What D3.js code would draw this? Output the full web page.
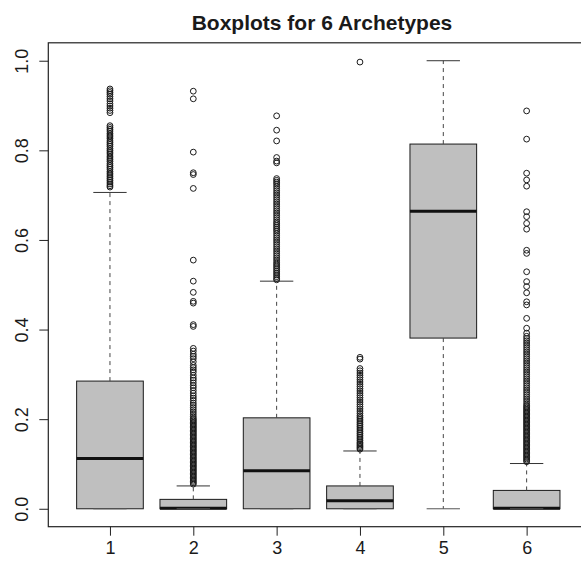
<!DOCTYPE html>
<html>
<head>
<meta charset="utf-8">
<script src="https://cdn.jsdelivr.net/npm/d3@7"></script>
<style>
  html, body { margin: 0; padding: 0; background: #fff; }
  svg { display: block; }
  text { font-family: "Liberation Sans", Arial, Helvetica, sans-serif; fill: #1a1a1a; }
</style>
</head>
<body>
<svg id="chart" width="581" height="561"></svg>
<script>
// ---- data ----
const categories = ["1", "2", "3", "4", "5", "6"];
const lowerWhisker = [0, 0, 0, 0, 0, 0];
const q1 = [0, 0, 0, 0, 0.381, 0];
const medians = [0.112, 0.001, 0.085, 0.018, 0.664, 0.001];
const q3 = [0.285, 0.021, 0.203, 0.051, 0.814, 0.041];
const upperWhisker = [0.706, 0.051, 0.508, 0.129, 1.0, 0.101];

const outliers1 = [0.937, 0.933, 0.929, 0.925, 0.92, 0.915, 0.91, 0.904, 0.899, 0.894, 0.889, 0.884,
  0.855, 0.851, 0.847, 0.843, 0.838, 0.834, 0.83, 0.826, 0.821, 0.817, 0.813, 0.809, 0.804, 0.8,
  0.796, 0.792, 0.787, 0.783, 0.779, 0.775, 0.77, 0.766, 0.762, 0.758, 0.753, 0.749, 0.745, 0.741,
  0.737, 0.733, 0.729, 0.725, 0.721, 0.718];
const outliers2 = [0.932, 0.915, 0.796, 0.75, 0.746, 0.715, 0.555, 0.508, 0.483, 0.463, 0.459,
  0.411, 0.407, 0.358, 0.352, 0.345, 0.34, 0.335, 0.328, 0.32, 0.315, 0.31, 0.305, 0.298, 0.292,
  0.287, 0.281, 0.275, 0.27, 0.264, 0.258, 0.252, 0.247, 0.242, 0.236, 0.231, 0.226, 0.221, 0.216,
  0.211, 0.206, 0.202, 0.199, 0.196, 0.193, 0.19, 0.187, 0.184, 0.181, 0.178, 0.175, 0.172, 0.169,
  0.166, 0.163, 0.16, 0.157, 0.154, 0.151, 0.148, 0.145, 0.142, 0.139, 0.136, 0.133, 0.13, 0.127,
  0.124, 0.121, 0.118, 0.115, 0.112, 0.109, 0.106, 0.103, 0.1, 0.097, 0.094, 0.091, 0.088, 0.085,
  0.082, 0.079, 0.076, 0.073, 0.07, 0.067, 0.064, 0.061, 0.058, 0.055];
const outliers3 = [0.877, 0.845, 0.821, 0.784, 0.776, 0.772,
  0.737, 0.733, 0.729, 0.725, 0.72, 0.715, 0.71, 0.705, 0.7, 0.695, 0.69, 0.685, 0.68, 0.675,
  0.67, 0.665, 0.66, 0.655, 0.65, 0.645, 0.64, 0.636, 0.632, 0.628, 0.624, 0.62, 0.615, 0.61,
  0.605, 0.6, 0.595, 0.59, 0.585, 0.58, 0.575, 0.57, 0.565, 0.56, 0.555, 0.55, 0.546, 0.542,
  0.538, 0.534, 0.53, 0.526, 0.522, 0.518, 0.514, 0.511];
const outliers4 = [0.997, 0.338, 0.334, 0.313, 0.308, 0.303, 0.298, 0.293, 0.288, 0.283, 0.278,
  0.273, 0.268, 0.263, 0.258, 0.253, 0.248, 0.243, 0.238, 0.233, 0.228, 0.223, 0.218, 0.213,
  0.208, 0.204, 0.2, 0.196, 0.192, 0.188, 0.184, 0.18, 0.176, 0.172, 0.168, 0.164, 0.16, 0.156,
  0.152, 0.148, 0.145, 0.142, 0.139, 0.136, 0.133];
const outliers5 = [];
const outliers6 = [0.888, 0.825, 0.749, 0.734, 0.72, 0.663, 0.652, 0.637, 0.624, 0.577, 0.57,
  0.529, 0.507, 0.496, 0.482, 0.462, 0.455, 0.425, 0.403, 0.392,
  0.385, 0.38, 0.375, 0.37, 0.365, 0.36, 0.355, 0.35, 0.345, 0.34, 0.335, 0.33, 0.325, 0.32,
  0.315, 0.31, 0.305, 0.3, 0.295, 0.29, 0.285, 0.28, 0.275, 0.27, 0.265, 0.26, 0.255, 0.25,
  0.245, 0.24, 0.235, 0.231, 0.228, 0.225, 0.222, 0.219, 0.216, 0.213, 0.21, 0.207, 0.204,
  0.201, 0.198, 0.195, 0.192, 0.189, 0.186, 0.183, 0.18, 0.177, 0.174, 0.171, 0.168, 0.165,
  0.162, 0.159, 0.156, 0.153, 0.15, 0.147, 0.144, 0.141, 0.138, 0.135, 0.132, 0.129, 0.126,
  0.123, 0.12, 0.117, 0.114, 0.111, 0.108, 0.105];
const outlierSets = [outliers1, outliers2, outliers3, outliers4, outliers5, outliers6];
const yTicks = [0, 0.2, 0.4, 0.6, 0.8, 1.0];
const titleText = "Boxplots for 6 Archetypes";

// ---- layout ----
const plotLeft = 48.3, plotRight = 588.3, plotTop = 42.8, plotBottom = 526.7;
const svg = d3.select("#chart");

const x = d3.scaleLinear().domain([0.26, categories.length + 0.74]).range([plotLeft, plotRight]);
const y = d3.scaleLinear().domain([-0.04, 1.04]).range([plotBottom, plotTop]);
const unit = x(2) - x(1);
const boxHalf = unit * 0.4;
const stapleHalf = unit * 0.2;

const stats = categories.map((c, i) => ({
  cat: c, pos: i + 1,
  lo: lowerWhisker[i], q1: q1[i], med: medians[i], q3: q3[i], hi: upperWhisker[i],
  out: outlierSets[i]
}));

const g = svg.append("g");

// boxes
g.selectAll("rect.box").data(stats).enter().append("rect")
  .attr("class", "box")
  .attr("x", d => x(d.pos) - boxHalf)
  .attr("width", boxHalf * 2)
  .attr("y", d => y(d.q3))
  .attr("height", d => Math.max(0, y(d.q1) - y(d.q3)))
  .attr("fill", "#bfbfbf")
  .attr("stroke", "#1a1a1a")
  .attr("stroke-width", 1);

// medians
g.selectAll("line.med").data(stats).enter().append("line")
  .attr("x1", d => x(d.pos) - boxHalf)
  .attr("x2", d => x(d.pos) + boxHalf)
  .attr("y1", d => y(d.med)).attr("y2", d => y(d.med))
  .attr("stroke", "#111").attr("stroke-width", 3);

// whiskers (dashed)
g.selectAll("line.wu").data(stats).enter().append("line")
  .attr("x1", d => x(d.pos)).attr("x2", d => x(d.pos))
  .attr("y1", d => y(d.q3)).attr("y2", d => y(d.hi))
  .attr("stroke", "#444").attr("stroke-width", 1).attr("stroke-dasharray", "4,4");
g.selectAll("line.wl").data(stats.filter(d => d.q1 > d.lo)).enter().append("line")
  .attr("x1", d => x(d.pos)).attr("x2", d => x(d.pos))
  .attr("y1", d => y(d.q1)).attr("y2", d => y(d.lo))
  .attr("stroke", "#444").attr("stroke-width", 1).attr("stroke-dasharray", "4,4");

// staples
g.selectAll("line.su").data(stats).enter().append("line")
  .attr("x1", d => x(d.pos) - stapleHalf).attr("x2", d => x(d.pos) + stapleHalf)
  .attr("y1", d => y(d.hi)).attr("y2", d => y(d.hi))
  .attr("stroke", "#333").attr("stroke-width", 1);
g.selectAll("line.sl").data(stats).enter().append("line")
  .attr("x1", d => x(d.pos) - stapleHalf).attr("x2", d => x(d.pos) + stapleHalf)
  .attr("y1", d => y(d.lo)).attr("y2", d => y(d.lo))
  .attr("stroke", "#555").attr("stroke-width", 1);

// outliers
stats.forEach(d => {
  g.selectAll(null).data(d.out).enter().append("circle")
    .attr("cx", x(d.pos))
    .attr("cy", v => y(v))
    .attr("r", 2.9)
    .attr("fill", "none")
    .attr("stroke", "#1a1a1a")
    .attr("stroke-width", 1);
});

// frame
svg.append("rect")
  .attr("x", plotLeft).attr("y", plotTop)
  .attr("width", plotRight - plotLeft).attr("height", plotBottom - plotTop)
  .attr("fill", "none").attr("stroke", "#222").attr("stroke-width", 1.2);

// x axis
const xAxis = svg.append("g")
  .attr("transform", `translate(0,${plotBottom})`)
  .call(d3.axisBottom(x).tickValues(stats.map(d => d.pos))
    .tickFormat((d, i) => categories[i]).tickSize(9).tickPadding(6));
xAxis.select(".domain").remove();
xAxis.selectAll("line").attr("stroke", "#222");
xAxis.selectAll("text").attr("font-size", 18).attr("font-family", "Liberation Sans, Arial, sans-serif").attr("fill", "#1a1a1a");

// y axis
const yAxis = svg.append("g")
  .attr("transform", `translate(${plotLeft},0)`)
  .call(d3.axisLeft(y).tickValues(yTicks).tickFormat(d3.format(".1f")).tickSize(9));
yAxis.select(".domain").remove();
yAxis.selectAll("line").attr("stroke", "#222");
yAxis.selectAll("text")
  .attr("font-size", 18).attr("font-family", "Liberation Sans, Arial, sans-serif").attr("fill", "#1a1a1a")
  .attr("x", null).attr("dy", null)
  .attr("text-anchor", "middle")
  .attr("transform", "translate(-20.3,0) rotate(-90)");

// title
svg.append("text")
  .attr("x", 322).attr("y", 30)
  .attr("text-anchor", "middle")
  .attr("font-size", 21).attr("font-weight", "bold")
  .text(titleText);
</script>
</body>
</html>
